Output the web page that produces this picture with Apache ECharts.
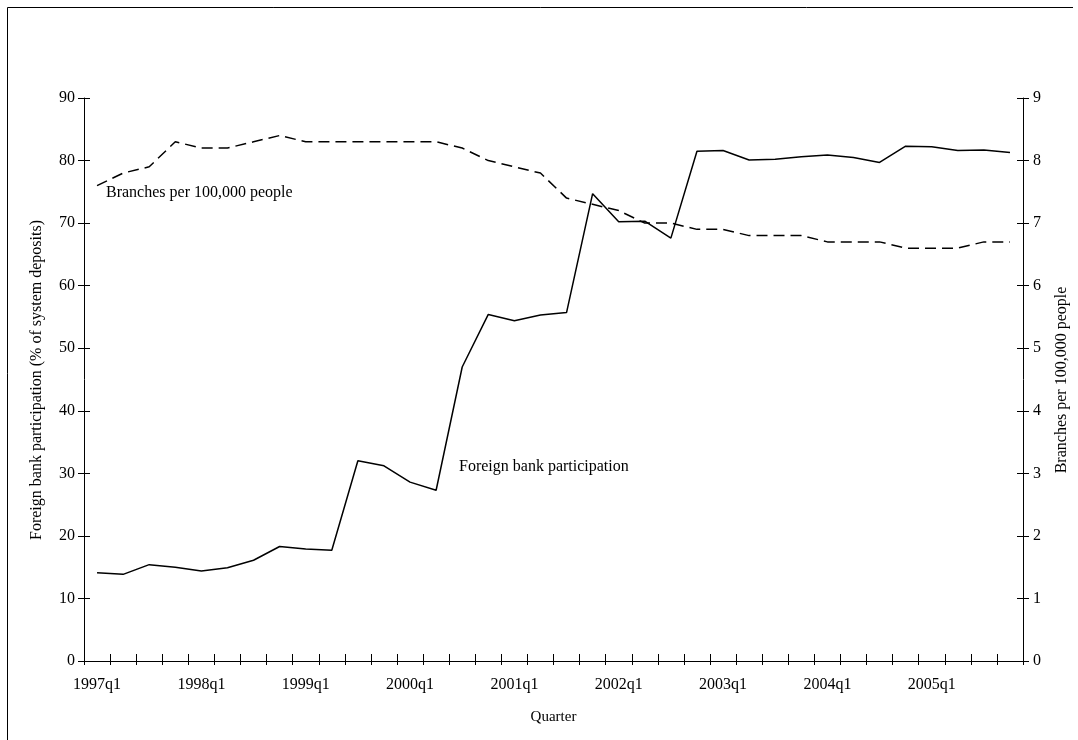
<!DOCTYPE html>
<html>
<head>
<meta charset="utf-8">
<script src="https://cdn.jsdelivr.net/npm/echarts@6.0.0/dist/echarts.min.js"></script>
<style>
html,body{margin:0;padding:0;background:#fff;}
#chart{width:1078px;height:740px;}
</style>
</head>
<body>
<div id="chart"></div>
<script>
var quarters = ["1997q1","1997q2","1997q3","1997q4","1998q1","1998q2","1998q3","1998q4",
  "1999q1","1999q2","1999q3","1999q4","2000q1","2000q2","2000q3","2000q4",
  "2001q1","2001q2","2001q3","2001q4","2002q1","2002q2","2002q3","2002q4",
  "2003q1","2003q2","2003q3","2003q4","2004q1","2004q2","2004q3","2004q4",
  "2005q1","2005q2","2005q3","2005q4"];
var foreignBankParticipation = [14.1,13.85,15.4,15.0,14.4,14.9,16.1,18.3,17.9,17.7,32.0,31.2,
  28.6,27.3,47.0,55.4,54.4,55.3,55.7,74.7,70.2,70.3,67.6,81.5,
  81.6,80.1,80.2,80.6,80.9,80.5,79.7,82.3,82.2,81.6,81.7,81.3];
var branchesPer100k = [7.6,7.8,7.9,8.3,8.2,8.2,8.3,8.4,8.3,8.3,8.3,8.3,
  8.3,8.3,8.2,8.0,7.9,7.8,7.4,7.3,7.2,7.0,7.0,6.9,
  6.9,6.8,6.8,6.8,6.7,6.7,6.7,6.6,6.6,6.6,6.7,6.7];
var leftTicks = {min:0, max:90, interval:10};
var rightTicks = {min:0, max:9, interval:1};

var FONT = 'Liberation Serif';
var INK = '#000';
var chart = echarts.init(document.getElementById('chart'), null, {renderer:'canvas'});

function xAx(primary){
  return {
    type:'category', data:quarters, boundaryGap:true, position:'bottom', gridIndex:0,
    axisLine:{show:primary, onZero:false, lineStyle:{color:INK, width:1}},
    axisTick:{show:true, interval:0, inside:!primary, length:primary?4:7, lineStyle:{color:INK, width:1}},
    axisLabel:{show:primary, interval:3, margin:16, fontFamily:FONT, fontSize:16, color:INK},
    splitLine:{show:false}
  };
}
function yAx(pos, t, primary){
  return {
    type:'value', position:pos, min:t.min, max:t.max, interval:t.interval, gridIndex:0,
    axisLine:{show:primary, onZero:false, lineStyle:{color:INK, width:1}},
    axisTick:{show:true, inside:!primary, length:6, lineStyle:{color:INK, width:1}},
    axisLabel:{show:primary, margin:pos==='left'?9:10, fontFamily:FONT, fontSize:16, color:INK},
    splitLine:{show:false}
  };
}

chart.setOption({
  animation:false,
  backgroundColor:'#fff',
  grid:{left:84, right:55, top:98, bottom:79, containLabel:false},
  xAxis:[xAx(true), xAx(false)],
  yAxis:[yAx('left', leftTicks, true), yAx('right', rightTicks, true),
         yAx('left', leftTicks, false), yAx('right', rightTicks, false)],
  series:[
    {name:'Foreign bank participation', type:'line', xAxisIndex:0, yAxisIndex:0,
     data:foreignBankParticipation, symbol:'none', smooth:false,
     lineStyle:{color:INK, width:1.5}},
    {name:'Branches per 100,000 people', type:'line', xAxisIndex:0, yAxisIndex:1,
     data:branchesPer100k, symbol:'none', smooth:false,
     lineStyle:{color:INK, width:1.5, type:[11,6]}}
  ],
  graphic:[
    {type:'polyline', silent:true, shape:{points:[[7.5,740],[7.5,7.5],[1073,7.5]]},
     style:{stroke:INK, lineWidth:1, fill:null}},
    {type:'text', x:106, y:192.5,
     style:{text:'Branches per 100,000 people', font:'16px "Liberation Serif"', fill:INK, align:'left', verticalAlign:'middle'}},
    {type:'text', x:459, y:467,
     style:{text:'Foreign bank participation', font:'16px "Liberation Serif"', fill:INK, align:'left', verticalAlign:'middle'}},
    {type:'text', x:553.5, y:717,
     style:{text:'Quarter', font:'15px "Liberation Serif"', fill:INK, align:'center', verticalAlign:'middle'}},
    {type:'text', x:37, y:380, rotation:Math.PI/2,
     style:{text:'Foreign bank participation (% of system deposits)', font:'16px "Liberation Serif"', fill:INK, align:'center', verticalAlign:'middle'}},
    {type:'text', x:1062, y:380, rotation:Math.PI/2,
     style:{text:'Branches per 100,000 people', font:'16px "Liberation Serif"', fill:INK, align:'center', verticalAlign:'middle'}}
  ]
});
</script>
</body>
</html>
